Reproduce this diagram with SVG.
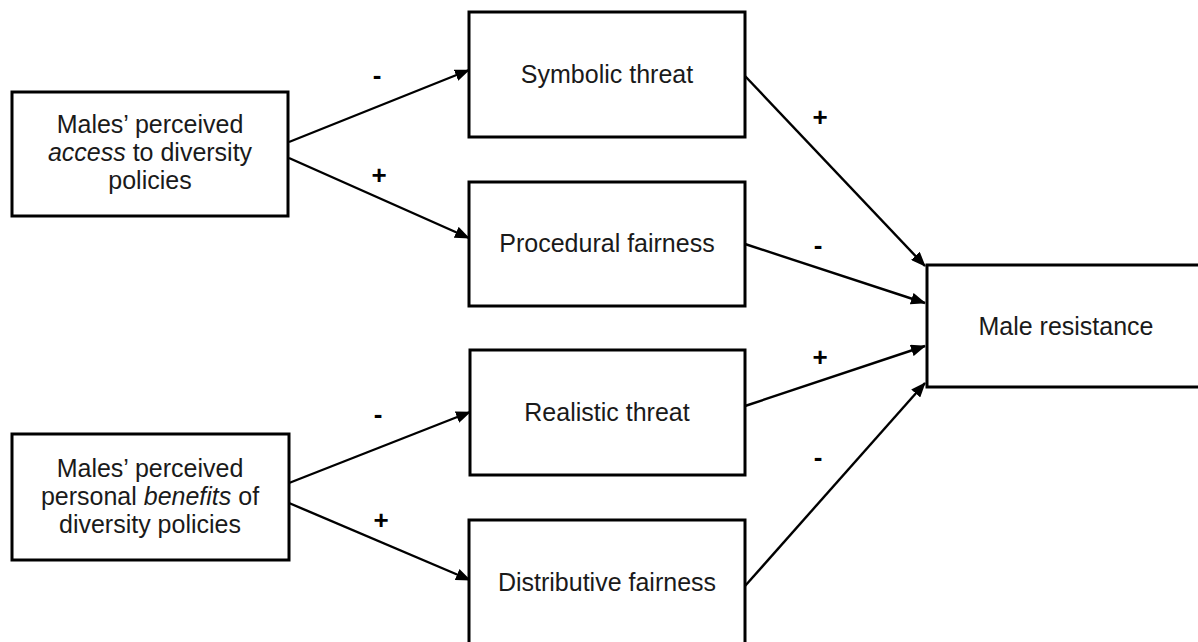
<svg xmlns="http://www.w3.org/2000/svg" width="1198" height="642" viewBox="0 0 1198 642">
<style>
.box{fill:#fff;stroke:#000;stroke-width:3}
.t{font-family:"Liberation Sans",Arial,Helvetica,sans-serif;font-size:25px;fill:#1a1a1a;text-anchor:middle}
.s{font-family:"Liberation Sans",Arial,Helvetica,sans-serif;font-size:26px;font-weight:bold;fill:#000;text-anchor:middle}
.c{stroke:#000;stroke-width:2.4;fill:none;marker-end:url(#ah)}
</style>
<defs>
<marker id="ah" markerUnits="userSpaceOnUse" markerWidth="15" markerHeight="12" refX="14" refY="6" orient="auto">
<path d="M0,0 L15,6 L0,12 z" fill="#000"/>
</marker>
</defs>
<rect width="1198" height="642" fill="#fff"/>
<g id="connectors">
<line class="c" x1="289" y1="142" x2="469" y2="70"/>
<line class="c" x1="289" y1="158" x2="469" y2="238"/>
<line class="c" x1="289" y1="483" x2="470" y2="412"/>
<line class="c" x1="289" y1="503" x2="470" y2="580"/>
<line class="c" x1="745" y1="76" x2="925" y2="266"/>
<line class="c" x1="745" y1="244" x2="925" y2="303"/>
<line class="c" x1="745" y1="406" x2="925" y2="346"/>
<line class="c" x1="745" y1="586" x2="925" y2="383"/>
</g>
<g id="edge-labels">
<text class="s" x="377" y="84">-</text>
<text class="s" x="379" y="184">+</text>
<text class="s" x="378" y="423">-</text>
<text class="s" x="381" y="529">+</text>
<text class="s" x="820" y="126">+</text>
<text class="s" x="818" y="254">-</text>
<text class="s" x="820" y="366">+</text>
<text class="s" x="818" y="466">-</text>
</g>
<g id="access">
<rect class="box" x="12" y="92" width="276" height="124"/>
<text class="t" x="150" y="133">Males’ perceived</text>
<text class="t" x="150" y="161"><tspan font-style="italic">access</tspan> to diversity</text>
<text class="t" x="150" y="189">policies</text>
</g>
<g id="benefits">
<rect class="box" x="12" y="434" width="277" height="126"/>
<text class="t" x="150" y="477">Males’ perceived</text>
<text class="t" x="150" y="505">personal <tspan font-style="italic">benefits</tspan> of</text>
<text class="t" x="150" y="533">diversity policies</text>
</g>
<g id="symbolic">
<rect class="box" x="469" y="12" width="276" height="125"/>
<text class="t" x="607" y="83">Symbolic threat</text>
</g>
<g id="procedural">
<rect class="box" x="469" y="182" width="276" height="124"/>
<text class="t" x="607" y="252">Procedural fairness</text>
</g>
<g id="realistic">
<rect class="box" x="470" y="350" width="275" height="125"/>
<text class="t" x="607" y="421">Realistic threat</text>
</g>
<g id="distributive">
<rect class="box" x="469" y="520" width="276" height="126"/>
<text class="t" x="607" y="591">Distributive fairness</text>
</g>
<g id="resistance">
<rect class="box" x="927" y="265" width="278" height="122"/>
<text class="t" x="1066" y="335">Male resistance</text>
</g>
</svg>
